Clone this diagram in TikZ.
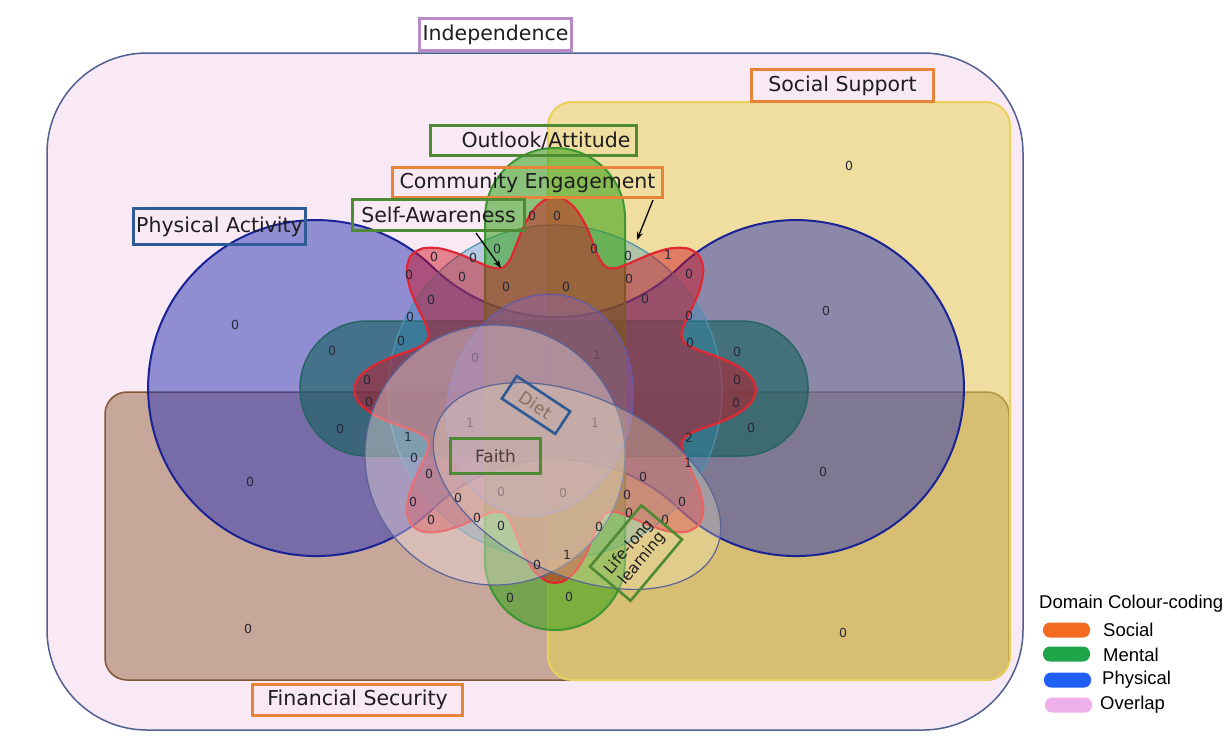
\documentclass[tikz,border=0pt]{standalone}
\usepackage{fontspec}
\setmainfont{DejaVu Sans}
\newfontfamily\legfont{Liberation Sans}
\usetikzlibrary{arrows.meta}
\definecolor{pinkbg}{RGB}{249,233,244}
\definecolor{indepB}{RGB}{80,95,145}
\definecolor{yelF}{RGB}{231,213,76}
\definecolor{yelB}{RGB}{232,208,90}
\definecolor{brownF}{RGB}{151,103,66}
\definecolor{brownB}{RGB}{130,85,55}
\definecolor{blueF}{RGB}{41,51,180}
\definecolor{blueB}{RGB}{25,35,150}
\definecolor{tealF}{RGB}{20,97,92}
\definecolor{tealB}{RGB}{40,100,100}
\definecolor{lblueF}{RGB}{40,140,185}
\definecolor{lblueB}{RGB}{80,145,170}
\definecolor{greenF}{RGB}{51,161,21}
\definecolor{greenB}{RGB}{60,150,50}
\definecolor{redF}{RGB}{205,15,30}
\definecolor{redB}{RGB}{225,40,50}
\definecolor{dietF}{RGB}{140,100,210}
\definecolor{dietB}{RGB}{100,90,170}
\definecolor{faithF}{RGB}{240,224,224}
\definecolor{ellB}{RGB}{90,100,150}
\definecolor{lllF}{RGB}{250,240,200}
\definecolor{purpleL}{RGB}{184,138,200}
\definecolor{orangeL}{RGB}{232,132,58}
\definecolor{greenL}{RGB}{78,138,52}
\definecolor{blueL}{RGB}{46,90,150}
\definecolor{txt}{RGB}{30,30,30}
\definecolor{numc}{RGB}{40,40,55}
\definecolor{dietT}{RGB}{140,110,95}
\definecolor{faithT}{RGB}{75,60,60}
\definecolor{socC}{RGB}{242,107,33}
\definecolor{menC}{RGB}{30,165,74}
\definecolor{phyC}{RGB}{31,95,245}
\definecolor{ovlC}{RGB}{237,176,234}
\begin{document}
\begin{tikzpicture}[x=1pt,y=-1pt,
  lbox/.style={draw=#1, line width=2.6pt, inner sep=0pt, text=txt,
    font=\fontsize{20.5}{24}\selectfont},
  num/.style={font=\fontsize{12.5}{14}\selectfont, text=numc, inner sep=0pt},
  faintnum/.style={num, text opacity=0.35},
  pill/.style={fill=#1, rounded corners=7pt, minimum width=47pt,
    minimum height=15pt, inner sep=0pt},
  legtxt/.style={font=\legfont\fontsize{18.5}{22}\selectfont, anchor=west,
    inner sep=0pt, text=black},
  thinline/.style={line width=1.2pt},
  pointer/.style={-{Stealth[length=8pt,width=6pt]}, line width=1.3pt, black}]
\useasboundingbox (0,0) rectangle (1229,740);
\fill[white] (0,0) rectangle (1229,740);

% Independence
\draw[fill=pinkbg, draw=indepB, line width=1.5pt, rounded corners=100pt]
  (47,53) rectangle (1023,730);
% Financial Security
\draw[fill=brownF, fill opacity=0.5, draw=brownB, line width=1.5pt, rounded corners=22pt]
  (105,392) rectangle (1009,680);
% Social Support
\draw[fill=yelF, fill opacity=0.5, draw=yelB, line width=2pt, rounded corners=24pt]
  (548,102) rectangle (1010,680);
% Physical Activity (dumbbell)
\draw[fill=blueF, fill opacity=0.5, draw=blueB, line width=2pt]
  (432.8,267.2) arc[start angle=134, end angle=46, radius=177.4]
  arc[start angle=-134, end angle=134, radius=168]
  arc[start angle=-46, end angle=-134, radius=177.4]
  arc[start angle=46, end angle=314, radius=168] -- cycle;
% teal capsule
\draw[fill=tealF, fill opacity=0.6, draw=tealB, line width=1.5pt, rounded corners=67pt]
  (300,321) rectangle (808,456);
% Self-Awareness circle
\draw[fill=lblueF, fill opacity=0.32, draw=lblueB, thinline]
  (555,392) circle[radius=167];
% Outlook/Attitude capsule
\draw[fill=greenF, fill opacity=0.55, draw=greenB, line width=2pt, rounded corners=69.9pt]
  (485,148) rectangle (625,630);
% Community Engagement flower
\draw[fill=redF, fill opacity=0.47, draw=redB, line width=2.2pt]
  plot[smooth cycle, variable=\a, domain=0:356, samples=90]
  ({555+1.02*(166+31*cos(8*\a))*cos(\a)}, {390+0.98*(166+31*cos(8*\a))*sin(\a)});
% Diet ellipse
\draw[fill=dietF, fill opacity=0.35, draw=dietB, thinline, rotate around={-15:(540,405)}]
  (540,405) ellipse[x radius=92, y radius=112];
% Faith circle
\draw[fill=faithF, fill opacity=0.4, draw=ellB, thinline]
  (495,455) circle[radius=130];
% Life-long learning ellipse
\draw[fill=lllF, fill opacity=0.3, draw=ellB, thinline, rotate around={-25:(577,486)}]
  (577,486) ellipse[x radius=153, y radius=89];

% numbers
\foreach \px/\py/\t [count=\i] in {849/166/0, 532/216/0, 557/216/0, 497/249/0,
  473/258/0, 434/257/0, 409/275/0, 462/277/0, 506/287/0, 566/287/0, 594/249/0,
  628/256/0, 668/255/1, 689/274/0, 629/279/0, 645/299/0, 431/300/0, 410/317/0,
  401/341/0, 689/316/0, 690/343/0, 737/352/0, 737/380/0, 736/403/0, 367/380/0,
  369/402/0, 235/325/0, 826/311/0, 332/351/0, 340/429/0, 751/428/0, 689/438/2,
  688/463/1, 823/472/0, 250/482/0, 248/629/0, 843/633/0, 408/437/1, 414/458/0,
  429/474/0, 413/502/0, 458/498/0, 431/520/0, 477/518/0, 501/526/0, 599/527/0,
  537/565/0, 567/555/1, 510/598/0, 569/597/0, 627/495/0, 643/477/0, 682/502/0,
  629/513/0, 665/520/0}
  \node[num] (n\i) at (\px,\py) {\t};
\foreach \px/\py/\t [count=\i] in {475/358/0, 597/355/1, 470/423/1, 595/423/1,
  501/492/0, 563/493/0}
  \node[faintnum] (f\i) at (\px,\py) {\t};

% labels
\node[lbox=purpleL, minimum width=152pt, minimum height=32pt] (indep) at (495.5,34.5) {Independence};
\node[lbox=orangeL, minimum width=182pt, minimum height=32pt] (soc) at (842.5,85.5) {Social Support};
\node[lbox=greenL, minimum width=206pt, minimum height=30pt] (oaBox) at (533.5,140.5) {};
\node[text=txt, inner sep=0pt, font=\fontsize{20.5}{24}\selectfont] (oa) at (546,140.5) {Outlook/Attitude};
\node[lbox=orangeL, minimum width=270pt, minimum height=30pt] (ce) at (527.5,182.5) {Community Engagement};
\node[lbox=greenL, minimum width=172pt, minimum height=31pt] (sa) at (438.5,215) {Self-Awareness};
\node[lbox=blueL, minimum width=172pt, minimum height=36pt] (pa) at (219.5,226.5) {Physical Activity};
\node[lbox=orangeL, minimum width=210pt, minimum height=31pt] (fs) at (357.5,700) {Financial Security};
\node[lbox=greenL, minimum width=90pt, minimum height=35pt, text=faithT,
  font=\fontsize{17}{20}\selectfont] (faith) at (495.5,456) {Faith};
\node[lbox=blueL, minimum width=64pt, minimum height=27pt, text=dietT, rotate=-33.5,
  font=\fontsize{17}{20}\selectfont] (diet) at (536,405) {Diet};
\node[lbox=greenL, minimum width=80pt, minimum height=53pt, rotate=50, align=center,
  font=\fontsize{15.5}{17.5}\selectfont] (lll) at (636,553) {Life-long\\learning};

% pointers
\coordinate (saFrom) at (476,233);
\coordinate (saTip) at (501,268);
\coordinate (ceFrom) at (653,200);
\coordinate (ceTip) at (637,240);
\draw[pointer] (saFrom) -- (saTip);
\draw[pointer] (ceFrom) -- (ceTip);

% legend
\node[legtxt] (legT) at (1039,604) {Domain Colour-coding};
\node[pill=socC] (pS) at (1066.5,630) {};
\node[pill=menC] (pM) at (1066.5,654) {};
\node[pill=phyC] (pP) at (1067.5,680) {};
\node[pill=ovlC] (pO) at (1068.5,705) {};
\node[legtxt] (tS) at (1103,630) {Social};
\node[legtxt] (tM) at (1103,655) {Mental};
\node[legtxt] (tP) at (1102,680) {Physical};
\node[legtxt] (tO) at (1100,705) {Overlap};
\end{tikzpicture}
\end{document}
